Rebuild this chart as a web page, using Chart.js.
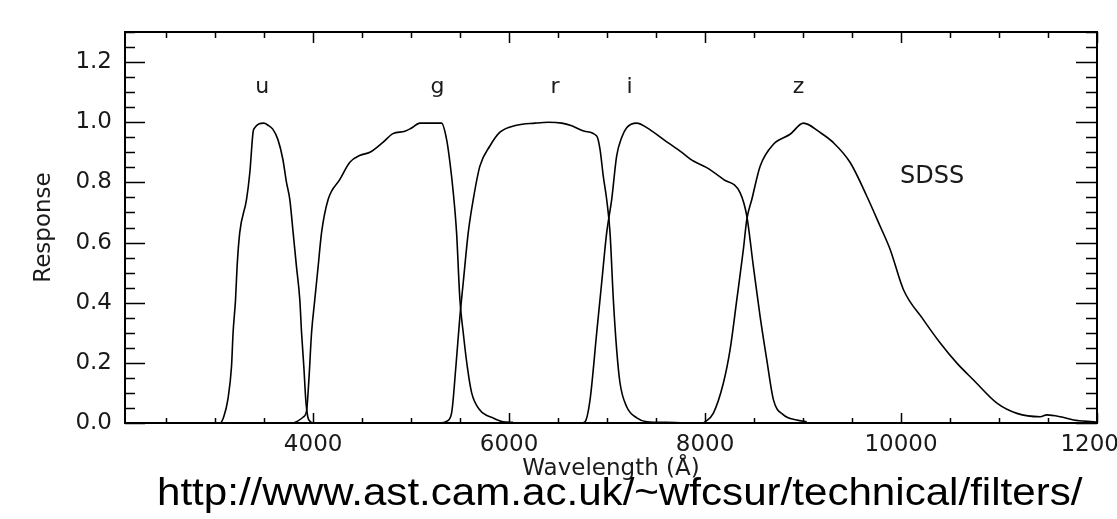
<!DOCTYPE html>
<html>
<head>
<meta charset="utf-8">
<title>SDSS filter response</title>
<script src="https://cdn.jsdelivr.net/npm/chart.js@4"></script>
<style>
  html, body { margin: 0; padding: 0; background: #fff; width: 1117px; height: 519px; overflow: hidden; }
  #chartBox { position: absolute; left: 0; top: 0; width: 1200px; height: 519px; }
  #url {
    position: absolute; left: 157px; top: 473px;
    font: 38px "Liberation Sans", Arial, sans-serif; line-height: 38px;
    color: #000; white-space: nowrap;
    transform: scaleX(1.108); transform-origin: 0 0;
  }
</style>
</head>
<body>
<div id="chartBox"><canvas id="filterChart" width="1200" height="519"></canvas></div>
<div id="url">http://www.ast.cam.ac.uk/~wfcsur/technical/filters/</div>

<script>
// ── Filter curves (wavelength in Å, normalised response)
const uWave = [3000, 3050, 3088, 3129, 3167, 3183, 3208, 3224, 3251, 3320, 3354, 3387, 3405, 3450, 3497, 3540, 3588, 3640, 3691, 3728, 3762, 3796, 3830, 3864, 3882, 3905, 3925, 3946, 3970, 4000];
const uResp = [0, 0, 0.021, 0.077, 0.188, 0.30, 0.41, 0.52, 0.633, 0.743, 0.833, 0.967, 0.982, 0.995, 0.997, 0.99, 0.977, 0.943, 0.877, 0.80, 0.743, 0.633, 0.52, 0.41, 0.30, 0.188, 0.077, 0.02, 0.005, 0];

const gWave = [3800, 3850, 3900, 3933, 3956, 3984, 4017, 4051, 4086, 4153, 4273, 4375, 4480, 4579, 4712, 4814, 4936, 5000, 5090, 5200, 5311, 5362, 5396, 5430, 5464, 5498, 5532, 5573, 5618, 5702, 5835, 5937, 6040];
const gResp = [0, 0.008, 0.02, 0.04, 0.14, 0.30, 0.41, 0.52, 0.633, 0.743, 0.81, 0.867, 0.89, 0.90, 0.933, 0.962, 0.97, 0.98, 0.997, 0.997, 0.997, 0.943, 0.867, 0.767, 0.633, 0.41, 0.30, 0.188, 0.10, 0.043, 0.017, 0.004, 0.002];

const rWave = [5300, 5360, 5413, 5457, 5498, 5532, 5583, 5634, 5702, 5804, 5907, 6077, 6264, 6400, 6537, 6639, 6770, 6894, 6928, 6961, 6996, 7030, 7064, 7098, 7132, 7200, 7303, 7405, 7600, 7745];
const rResp = [0, 0.005, 0.033, 0.188, 0.354, 0.467, 0.633, 0.743, 0.854, 0.921, 0.967, 0.99, 0.997, 1.0, 0.997, 0.988, 0.97, 0.954, 0.91, 0.821, 0.743, 0.633, 0.41, 0.243, 0.133, 0.054, 0.017, 0.004, 0.002, 0.001];

const iWave = [6740, 6775, 6826, 6894, 6945, 6996, 7047, 7098, 7150, 7200, 7303, 7405, 7574, 7745, 7881, 8017, 8187, 8357, 8426, 8493, 8562, 8630, 8698, 8800, 8936, 9038];
const iResp = [0, 0.004, 0.077, 0.30, 0.467, 0.633, 0.743, 0.888, 0.95, 0.982, 0.997, 0.982, 0.943, 0.904, 0.871, 0.849, 0.81, 0.766, 0.688, 0.521, 0.354, 0.21, 0.077, 0.027, 0.01, 0.004];

const zWave = [7980, 8000, 8085, 8187, 8255, 8324, 8391, 8426, 8477, 8562, 8698, 8868, 9004, 9174, 9310, 9481, 9651, 9787, 9889, 10025, 10229, 10400, 10570, 10740, 10979, 11183, 11421, 11489, 11625, 11761, 11962, 12000];
const zResp = [0, 0.004, 0.033, 0.133, 0.243, 0.41, 0.577, 0.677, 0.743, 0.854, 0.927, 0.96, 0.997, 0.966, 0.932, 0.866, 0.754, 0.654, 0.577, 0.443, 0.343, 0.266, 0.199, 0.143, 0.066, 0.032, 0.021, 0.027, 0.021, 0.01, 0.004, 0.003];

// ── Axis ticks
const xTickValues = [4000, 6000, 8000, 10000, 12000];
const yTickValues = [0, 0.2, 0.4, 0.6, 0.8, 1.0, 1.2];

// ── Text annotations (data coordinates: wavelength, response at text baseline)
const noteText = ['u', 'g', 'r', 'i', 'z', 'SDSS'];
const noteWave = [3481, 5268, 6468, 7229, 8955, 10318];
const noteResp = [1.097, 1.097, 1.097, 1.097, 1.097, 0.797];

// ── Shared style
const FONT_FAMILY = '"DejaVu Sans", Verdana, sans-serif';
const INK = '#1a1a1a';

function toPoints(xs, ys) {
  return xs.map((x, i) => ({ x: x, y: ys[i] }));
}

const bands = [
  { label: 'u', data: toPoints(uWave, uResp) },
  { label: 'g', data: toPoints(gWave, gResp) },
  { label: 'r', data: toPoints(rWave, rResp) },
  { label: 'i', data: toPoints(iWave, iResp) },
  { label: 'z', data: toPoints(zWave, zResp) },
];

/* Draws the IDL-style box: frame, inward major/minor ticks, and the band labels */
const idlFrame = {
  id: 'idlFrame',
  afterDraw(chart) {
    const { ctx, chartArea: a, scales: { x, y } } = chart;
    ctx.save();
    ctx.strokeStyle = '#000';
    ctx.lineWidth = 2;
    ctx.strokeRect(a.left, a.top, a.right - a.left, a.bottom - a.top);

    ctx.lineWidth = 1.5;
    ctx.beginPath();
    // x ticks every 500 Å, major every 2000 Å
    for (let v = 2500; v <= x.max; v += 500) {
      const px = Math.round(x.getPixelForValue(v)) + 0.5;
      const major = v % 2000 === 0;
      ctx.moveTo(px, a.bottom); ctx.lineTo(px, a.bottom - (major ? 10 : 5));
      ctx.moveTo(px, a.top);    ctx.lineTo(px, a.top + (major ? 11 : 6));
    }
    // y ticks every 0.05, major every 0.2
    for (let k = 0; k * 0.05 <= y.max + 1e-9; k++) {
      const py = Math.round(y.getPixelForValue(k * 0.05)) + 0.5;
      const major = k % 4 === 0;
      ctx.moveTo(a.left, py);  ctx.lineTo(a.left + (major ? 20 : 10), py);
      ctx.moveTo(a.right, py); ctx.lineTo(a.right - (major ? 21 : 11), py);
    }
    ctx.stroke();

    // band labels
    ctx.fillStyle = INK;
    ctx.textAlign = 'center';
    ctx.textBaseline = 'alphabetic';
    noteText.forEach((t, i) => {
      ctx.font = (t === 'SDSS' ? '24px ' : '22px ') + FONT_FAMILY;
      ctx.fillText(t, x.getPixelForValue(noteWave[i]), y.getPixelForValue(noteResp[i]));
    });
    ctx.restore();
  },
};

const ctx = document.getElementById('filterChart');

new Chart(ctx, {
  type: 'line',
  data: {
    datasets: bands.map(b => ({
      label: b.label,
      data: b.data,
      borderColor: '#000',
      borderWidth: 1.6,
      pointRadius: 0,
      fill: false,
      cubicInterpolationMode: 'monotone',
    })),
  },
  options: {
    responsive: false,
    animation: false,
    devicePixelRatio: 1,
    parsing: false,
    layout: { padding: { top: 32, right: 103, left: 0, bottom: 0 } },
    plugins: {
      legend: { display: false },
      tooltip: { enabled: false },
    },
    scales: {
      x: {
        type: 'linear',
        min: 2080,
        max: 12000,
        grid: { display: false },
        border: { display: false },
        afterBuildTicks: s => { s.ticks = xTickValues.map(v => ({ value: v })); },
        afterFit: s => { s.height = 96; },
        ticks: {
          color: INK,
          font: { family: FONT_FAMILY, size: 23 },
          padding: 0,
          maxRotation: 0,
          autoSkip: false,
          callback: v => String(v),
        },
        title: {
          display: true,
          text: 'Wavelength (Å)',
          color: INK,
          font: { family: FONT_FAMILY, size: 23 },
          padding: { top: 0, bottom: 36 },
        },
      },
      y: {
        type: 'linear',
        min: 0,
        max: 1.3,
        grid: { display: false },
        border: { display: false },
        afterBuildTicks: s => { s.ticks = yTickValues.map(v => ({ value: v })); },
        afterFit: s => { s.width = 125; },
        ticks: {
          color: INK,
          font: { family: FONT_FAMILY, size: 23 },
          padding: 5,
          callback: v => v.toFixed(1),
        },
        title: {
          display: true,
          text: 'Response',
          color: INK,
          font: { family: FONT_FAMILY, size: 23 },
          padding: { top: 30, bottom: 0 },
        },
      },
    },
  },
  plugins: [idlFrame],
});
</script>
</body>
</html>
